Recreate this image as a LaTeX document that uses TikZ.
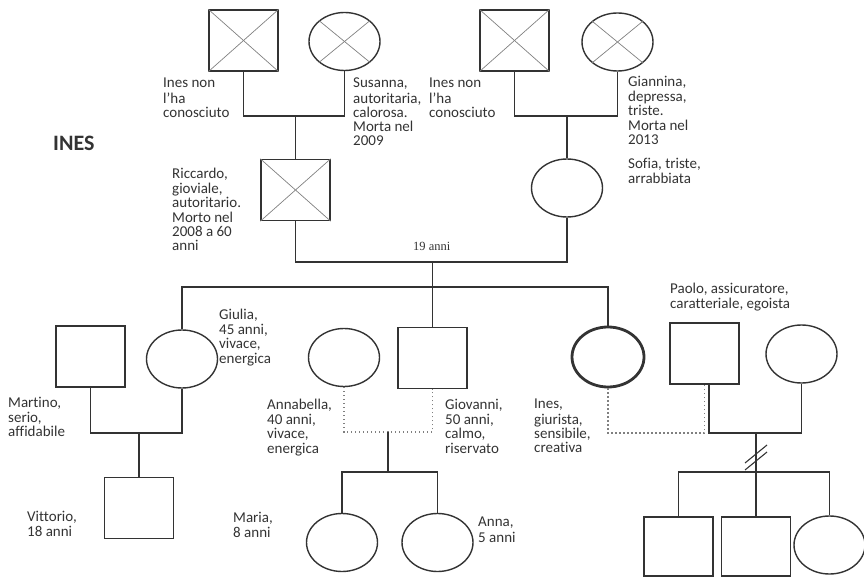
\documentclass[tikz,border=0pt]{standalone}
\usepackage{fontspec}
\setmainfont{Carlito}[Ligatures=NoCommon]
\newfontfamily\serifnum{Liberation Serif}
\usetikzlibrary{shapes.geometric,calc}
\definecolor{ink}{HTML}{333333}
\begin{document}
\begin{tikzpicture}[x=1pt,y=-1pt,
  sq/.style={draw=ink, line width=1.4pt, rectangle, minimum width=69pt, minimum height=61pt, inner sep=0pt},
  el/.style={draw=ink, line width=1.4pt, ellipse, minimum width=71pt, minimum height=58pt, inner sep=0pt},
  ln/.style={draw=ink, line width=1.4pt},
  rel/.style={draw=gray, line width=1.2pt, dash pattern=on 1.2pt off 2.8pt},
  crs/.style={draw=gray, line width=0.7pt},
  lbl/.style={anchor=north west, inner sep=0pt, align=left, text=ink, font=\fontsize{15}{14.2}\selectfont},
]
\useasboundingbox (0,0) rectangle (864,577);

% generation I
\node[sq] (gf1) at (243.5,40.5) {};
\node[el] (gm1) at (344.5,41.5) {};
\node[sq] (gf2) at (514.5,40.5) {};
\node[el] (gm2) at (617.5,42) {};
\foreach \n in {gf1,gm1,gf2,gm2}{
  \draw[crs] (\n.north west) -- (\n.south east);
  \draw[crs] (\n.north east) -- (\n.south west);
}

% generation II
\node[sq] (ricc) at (295.5,190) {};
\draw[crs] (ricc.north west) -- (ricc.south east);
\draw[crs] (ricc.north east) -- (ricc.south west);
\node[el] (sofia) at (567,188) {};

% generation III
\node[sq] (martino) at (90.5,356.5) {};
\node[el] (giulia) at (182,359) {};
\node[el] (annab) at (344,357.5) {};
\node[sq] (giov) at (432.5,358) {};
\node[el, line width=2.8pt, minimum width=72pt, minimum height=60pt] (ines) at (608,357) {};
\node[sq] (paolo) at (704.5,353.5) {};
\node[el] (pwife) at (801.5,354) {};

% generation IV
\node[sq] (vitt) at (139,508) {};
\node[el] (maria) at (342,542.5) {};
\node[el] (anna) at (437.5,542.5) {};
\node[sq, minimum height=59pt] (c1) at (678.5,546.5) {};
\node[sq, minimum height=59pt] (c2) at (756,546.5) {};
\node[el] (c3) at (829.5,545) {};

% junction points
\coordinate (u1) at (295.5,116);
\coordinate (u2) at (567,116);
\coordinate (u3) at (432.5,262);
\coordinate (s1) at (432.5,287);
\coordinate (u4) at (139,433);
\coordinate (u5) at (388,432);
\coordinate (s2) at (388,472);
\coordinate (d3) at (704.5,433);
\coordinate (u6) at (756,433);
\coordinate (s3) at (756,472);
\coordinate (dv) at (756,457);

% connectors
\draw[ln] (gf1.south) |- (u1) -| (gm1.south);
\draw[ln] (u1) -- (ricc.north);
\draw[ln] (gf2.south) |- (u2) -| (gm2.south);
\draw[ln] (u2) -- (sofia.north);
\draw[ln] (ricc.south) |- (u3) -| (sofia.south);
\draw[ln] (u3) -- (giov.north);
\draw[ln] (giulia.north) |- (s1) -| (ines.north);
\draw[ln] (martino.south) |- (u4) -| (giulia.south);
\draw[ln] (u4) -- (vitt.north);
\draw[rel] (annab.south) |- (u5) -| (giov.south);
\draw[ln] (u5) -- (s2);
\draw[ln] (maria.north) |- (s2) -| (anna.north);
\draw[rel] (ines.south) |- (d3) -- (paolo.south);
\draw[ln] ([xshift=4.5pt]paolo.south) |- (u6) -| (pwife.south);
\draw[ln] (u6) -- (s3);
\draw[ln] (c1.north) |- (s3) -| (c3.north);
\draw[ln] (s3) -- (c2.north);
% divorce marks
\draw[ln, line width=1.1pt] ($(dv)+(-11,6)$) -- ($(dv)+(11,-12)$);
\draw[ln, line width=1.1pt] ($(dv)+(-11,13)$) -- ($(dv)+(11,-5)$);

% labels
\node[anchor=base west, inner sep=0pt, text=ink, font=\bfseries\fontsize{22}{26}\selectfont] (title) at (53,151) {INES};
\node[anchor=base west, inner sep=0pt, text=ink, font=\serifnum\fontsize{12.5}{14}\selectfont] (yrs) at (413,250.5) {19 anni};
\node[lbl] (l1) at (163,77.5) {\strut Ines non\\l’ha\\conosciuto};
\node[lbl] (l2) at (353,77.5) {\strut Susanna,\\autoritaria,\\calorosa.\\Morta nel\\2009};
\node[lbl] (l3) at (429,77.5) {\strut Ines non\\l’ha\\conosciuto};
\node[lbl] (l4) at (628,75.5) {\strut Giannina,\\depressa,\\triste.\\Morta nel\\2013};
\node[lbl] (l5) at (628,157.5) {\strut Sofia, triste,\\arrabbiata};
\node[lbl] (l6) at (172,167.5) {\strut Riccardo,\\gioviale,\\autoritario.\\Morto nel\\2008 a 60\\anni};
\node[lbl] (l7) at (670,282.5) {\strut Paolo, assicuratore,\\caratteriale, egoista};
\node[lbl] (l8) at (219,308.5) {\strut Giulia,\\45 anni,\\vivace,\\energica};
\node[lbl] (l9) at (8,396.5) {\strut Martino,\\serio,\\affidabile};
\node[lbl] (l10) at (267,398.5) {\strut Annabella,\\40 anni,\\vivace,\\energica};
\node[lbl] (l11) at (445,398.5) {\strut Giovanni,\\50 anni,\\calmo,\\riservato};
\node[lbl] (l12) at (534,398.5) {\strut Ines,\\giurista,\\sensibile,\\creativa};
\node[lbl] (l13) at (27,510.5) {\strut Vittorio,\\18 anni};
\node[lbl] (l14) at (233,511.5) {\strut Maria,\\8 anni};
\node[lbl] (l15) at (478,516.5) {\strut Anna,\\5 anni};
\end{tikzpicture}
\end{document}
